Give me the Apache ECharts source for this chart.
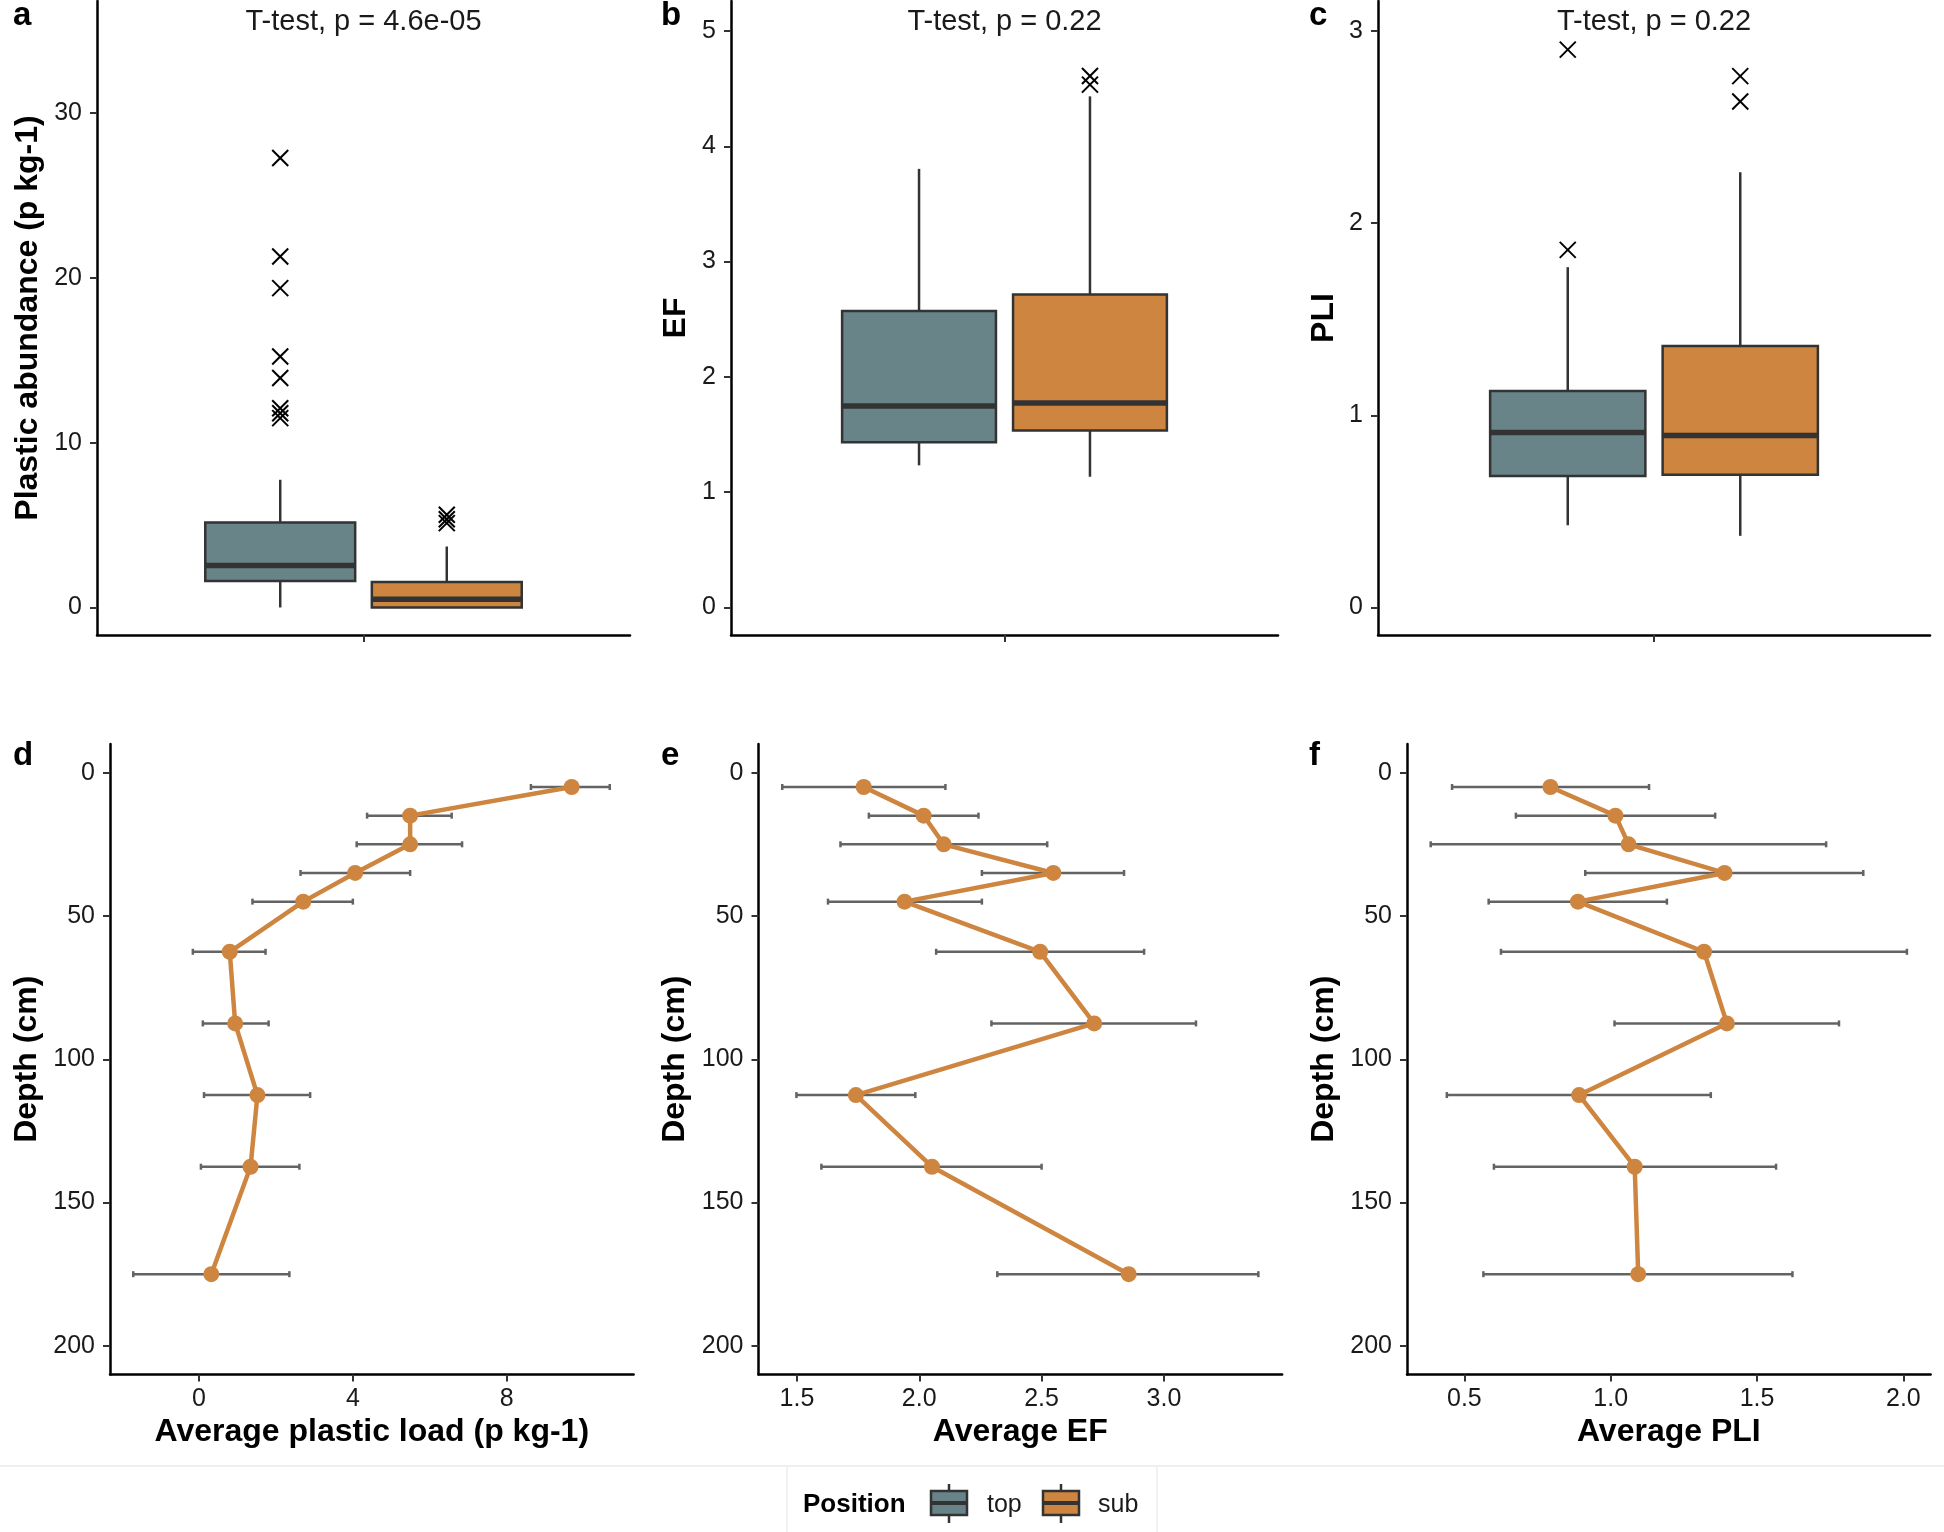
<!DOCTYPE html>
<html>
<head>
<meta charset="utf-8">
<script src="https://cdn.jsdelivr.net/npm/echarts@6/dist/echarts.min.js"></script>
<style>
html,body{margin:0;padding:0;background:#ffffff;}
#chart{width:1944px;height:1532px;}
</style>
</head>
<body>
<div id="chart"></div>
<script>
// ================= DATA =================
const positions = ['top', 'sub'];
const pValueLabels = ['T-test, p = 4.6e-05', 'T-test, p = 0.22', 'T-test, p = 0.22'];
const panelLetters = ['a', 'b', 'c', 'd', 'e', 'f'];

// box statistics: [lower whisker, Q1, median, Q3, upper whisker]
const abundanceTop = [0, 1.6, 2.55, 5.15, 7.75];
const abundanceSub = [0, 0, 0.5, 1.55, 3.7];
const abundanceTopOutliers = [27.27, 21.3, 19.38, 15.23, 13.92, 12.09, 11.79, 11.49];
const abundanceSubOutliers = [5.63, 5.35, 5.12];

const efTop = [1.233, 1.434, 1.748, 2.571, 3.804];
const efSub = [1.134, 1.536, 1.774, 2.714, 4.433];
const efTopOutliers = [];
const efSubOutliers = [4.535, 4.609];

const pliTop = [0.428, 0.685, 0.911, 1.126, 1.771];
const pliSub = [0.373, 0.691, 0.895, 1.361, 2.265];
const pliTopOutliers = [1.861, 2.903];
const pliSubOutliers = [2.633, 2.765];

// depth profiles
const depths = [5, 15, 25, 35, 45, 62.5, 87.5, 112.5, 137.5, 175];
const loadMean = [9.69, 5.49, 5.49, 4.06, 2.71, 0.80, 0.94, 1.52, 1.34, 0.32];
const loadLow  = [8.63, 4.37, 4.10, 2.64, 1.39, -0.16, 0.10, 0.13, 0.05, -1.71];
const loadHigh = [10.68, 6.57, 6.84, 5.49, 4.00, 1.73, 1.81, 2.89, 2.61, 2.35];

const efMean = [1.773, 2.018, 2.100, 2.548, 1.940, 2.494, 2.715, 1.741, 2.052, 2.856];
const efLow  = [1.440, 1.794, 1.678, 2.256, 1.627, 2.069, 2.295, 1.498, 1.600, 2.319];
const efHigh = [2.107, 2.242, 2.523, 2.837, 2.256, 2.919, 3.131, 1.984, 2.500, 3.386];

const pliMean = [0.794, 1.016, 1.061, 1.389, 0.888, 1.319, 1.397, 0.892, 1.082, 1.094];
const pliLow  = [0.458, 0.676, 0.385, 0.913, 0.583, 0.625, 1.013, 0.440, 0.601, 0.565];
const pliHigh = [1.131, 1.357, 1.736, 1.863, 1.192, 2.012, 1.780, 1.342, 1.565, 1.621];

// tick labels
const abundanceTicks = [0, 10, 20, 30];
const efTicks = [0, 1, 2, 3, 4, 5];
const pliTicks = [0, 1, 2, 3];
const depthTicks = [0, 50, 100, 150, 200];
const loadTicks = [0, 4, 8];
const avgEfTicks = [1.5, 2.0, 2.5, 3.0];
const avgPliTicks = [0.5, 1.0, 1.5, 2.0];

// axis titles
const topYNames = ['Plastic abundance (p kg-1)', 'EF', 'PLI'];
const botXNames = ['Average plastic load (p kg-1)', 'Average EF', 'Average PLI'];
const depthName = 'Depth (cm)';
const legendTitle = 'Position';

// ================= STYLE / LAYOUT =================
const FONT = '"Liberation Sans", Arial, Helvetica, sans-serif';
const FILLS = ['#688489', '#CD853F'];
const OUTLINE = '#333333';
const LINE_COLOR = '#CD853F';
const ERR_COLOR = '#636363';
const TEXT_COLOR = '#1a1a1a';
const BOX_HALF = 0.16875;     // half box width in category units
const DODGE = 0.375;          // dodge spacing

const topGrids = [
  {left: 97, top: 1, width: 533, height: 634},
  {left: 731, top: 1, width: 547, height: 634},
  {left: 1378, top: 1, width: 552, height: 634}
];
const botGrids = [
  {left: 110, top: 744, width: 523.6, height: 630.5},
  {left: 758.5, top: 744, width: 523.6, height: 630.5},
  {left: 1407, top: 744, width: 523.6, height: 630.5}
];
const topYRanges = [[-1.67, 36.8], [-0.2385, 5.26], [-0.143, 3.156]];
const botXRanges = [[-2.314, 11.3], [1.343, 3.483], [0.304, 2.093]];
const topYNameGaps = [53, 39, 38];

// ================= BUILD =================
const chart = echarts.init(document.getElementById('chart'), null, {renderer: 'canvas'});

const axisLineStyle = {show: true, onZero: false, lineStyle: {color: '#000', width: 2.5}};
const tickStyle = (vals) => ({show: true, customValues: vals, length: 7, lineStyle: {color: '#333', width: 2}});
const labelStyle = (vals, margin, fmt) => ({
  show: true, customValues: vals, fontSize: 25, color: TEXT_COLOR, fontFamily: FONT, margin: margin,
  formatter: fmt || (v => String(v))
});
const nameStyle = {fontSize: 32, fontWeight: 'bold', color: '#000', fontFamily: FONT};

const grids = [];
const xAxes = [];
const yAxes = [];
const series = [];

const boxStats = [[abundanceTop, abundanceSub], [efTop, efSub], [pliTop, pliSub]];
const outlierSets = [
  [abundanceTopOutliers, abundanceSubOutliers],
  [efTopOutliers, efSubOutliers],
  [pliTopOutliers, pliSubOutliers]
];
const topTicks = [abundanceTicks, efTicks, pliTicks];

function renderBox(params, api) {
  const x = api.value(0);
  const lo = api.value(1), q1 = api.value(2), med = api.value(3), q3 = api.value(4), hi = api.value(5);
  const fill = FILLS[api.value(6)];
  const a = api.coord([x - BOX_HALF, q3]);
  const b = api.coord([x + BOX_HALF, q1]);
  const mL = api.coord([x - BOX_HALF, med]);
  const mR = api.coord([x + BOX_HALF, med]);
  const wLo = api.coord([x, lo]), wQ1 = api.coord([x, q1]);
  const wQ3 = api.coord([x, q3]), wHi = api.coord([x, hi]);
  const ls = {stroke: OUTLINE, lineWidth: 2.5};
  return {
    type: 'group',
    children: [
      {type: 'line', shape: {x1: wQ3[0], y1: wQ3[1], x2: wHi[0], y2: wHi[1]}, style: ls},
      {type: 'line', shape: {x1: wLo[0], y1: wLo[1], x2: wQ1[0], y2: wQ1[1]}, style: ls},
      {type: 'rect', shape: {x: a[0], y: a[1], width: b[0] - a[0], height: b[1] - a[1]},
        style: {fill: fill, stroke: OUTLINE, lineWidth: 2.5}},
      {type: 'line', shape: {x1: mL[0], y1: mL[1], x2: mR[0], y2: mR[1]}, style: {stroke: OUTLINE, lineWidth: 5.5}}
    ]
  };
}

function renderCross(params, api) {
  const p = api.coord([api.value(0), api.value(1)]);
  const s = 8;
  const st = {stroke: '#000', lineWidth: 2};
  return {
    type: 'group',
    children: [
      {type: 'line', shape: {x1: p[0] - s, y1: p[1] - s, x2: p[0] + s, y2: p[1] + s}, style: st},
      {type: 'line', shape: {x1: p[0] - s, y1: p[1] + s, x2: p[0] + s, y2: p[1] - s}, style: st}
    ]
  };
}

function renderErr(params, api) {
  const pl = api.coord([api.value(0), api.value(2)]);
  const ph = api.coord([api.value(1), api.value(2)]);
  const c = 3;
  const st = {stroke: ERR_COLOR, lineWidth: 2.5};
  return {
    type: 'group',
    children: [
      {type: 'line', shape: {x1: pl[0], y1: pl[1], x2: ph[0], y2: ph[1]}, style: st},
      {type: 'line', shape: {x1: pl[0], y1: pl[1] - c, x2: pl[0], y2: pl[1] + c}, style: st},
      {type: 'line', shape: {x1: ph[0], y1: ph[1] - c, x2: ph[0], y2: ph[1] + c}, style: st}
    ]
  };
}

// ---- top row: boxplots ----
for (let i = 0; i < 3; i++) {
  grids.push(Object.assign({containLabel: false}, topGrids[i]));
  xAxes.push({
    type: 'value', gridIndex: i, min: 0.4, max: 1.6,
    axisLine: axisLineStyle, axisTick: tickStyle([1]), axisLabel: {show: false},
    splitLine: {show: false}
  });
  yAxes.push({
    type: 'value', gridIndex: i, min: topYRanges[i][0], max: topYRanges[i][1],
    axisLine: axisLineStyle, axisTick: tickStyle(topTicks[i]),
    axisLabel: labelStyle(topTicks[i], 15), splitLine: {show: false},
    name: topYNames[i], nameLocation: 'middle', nameGap: topYNameGaps[i], nameRotate: 90,
    nameTextStyle: nameStyle
  });
  const boxData = positions.map((p, g) => {
    const xPos = 1 + (g - 0.5) * DODGE;
    return [xPos].concat(boxStats[i][g]).concat([g]);
  });
  series.push({
    type: 'custom', xAxisIndex: i, yAxisIndex: i, renderItem: renderBox,
    data: boxData, z: 2, silent: true
  });
  const outData = [];
  positions.forEach((p, g) => {
    const xPos = 1 + (g - 0.5) * DODGE;
    outlierSets[i][g].forEach(v => outData.push([xPos, v]));
  });
  series.push({
    type: 'custom', xAxisIndex: i, yAxisIndex: i, renderItem: renderCross,
    data: outData, z: 3, silent: true
  });
}

// ---- bottom row: depth profiles ----
const profMeans = [loadMean, efMean, pliMean];
const profLows = [loadLow, efLow, pliLow];
const profHighs = [loadHigh, efHigh, pliHigh];
const botTicks = [loadTicks, avgEfTicks, avgPliTicks];
const botFmt = [v => String(v), v => v.toFixed(1), v => v.toFixed(1)];

for (let j = 0; j < 3; j++) {
  const k = j + 3;
  grids.push(Object.assign({containLabel: false}, botGrids[j]));
  xAxes.push({
    type: 'value', gridIndex: k, min: botXRanges[j][0], max: botXRanges[j][1],
    axisLine: axisLineStyle, axisTick: tickStyle(botTicks[j]),
    axisLabel: labelStyle(botTicks[j], 12, botFmt[j]), splitLine: {show: false},
    name: botXNames[j], nameLocation: 'middle', nameGap: 42, nameTextStyle: nameStyle
  });
  yAxes.push({
    type: 'value', gridIndex: k, min: -10, max: 210, inverse: true,
    axisLine: axisLineStyle, axisTick: tickStyle(depthTicks),
    axisLabel: labelStyle(depthTicks, 15), splitLine: {show: false},
    name: depthName, nameLocation: 'middle', nameGap: 67, nameRotate: 90,
    nameTextStyle: nameStyle
  });
  series.push({
    type: 'custom', xAxisIndex: k, yAxisIndex: k, renderItem: renderErr,
    data: depths.map((d, i) => [profLows[j][i], profHighs[j][i], d]), z: 2, silent: true
  });
  series.push({
    type: 'line', xAxisIndex: k, yAxisIndex: k,
    data: depths.map((d, i) => [profMeans[j][i], d]),
    symbol: 'circle', symbolSize: 16, showSymbol: true,
    itemStyle: {color: LINE_COLOR, borderWidth: 0},
    lineStyle: {color: LINE_COLOR, width: 4.5},
    z: 3, silent: true, animation: false
  });
}

// ---- graphics: letters, p labels, legend ----
const graphics = [];
const letterPos = [[13, 16], [661, 16], [1309, 16], [13, 756], [661, 756], [1309, 756]];
panelLetters.forEach((t, i) => {
  graphics.push({
    type: 'text', x: letterPos[i][0], y: letterPos[i][1], silent: true,
    style: {text: t, font: 'bold 33px ' + FONT, fill: '#000',
      align: 'left', verticalAlign: 'middle', textAlign: 'left', textVerticalAlign: 'middle'}
  });
});
pValueLabels.forEach((t, i) => {
  graphics.push({
    type: 'text', x: topGrids[i].left + topGrids[i].width / 2, y: 21.5, silent: true,
    style: {text: t, font: '29px ' + FONT, fill: TEXT_COLOR,
      align: 'center', verticalAlign: 'middle', textAlign: 'center', textVerticalAlign: 'middle'}
  });
});
// faint legend box separators
graphics.push({type: 'line', silent: true, shape: {x1: 0, y1: 1466, x2: 1944, y2: 1466}, style: {stroke: '#efefef', lineWidth: 2}});
graphics.push({type: 'line', silent: true, shape: {x1: 787, y1: 1466, x2: 787, y2: 1532}, style: {stroke: '#f2f2f2', lineWidth: 2}});
graphics.push({type: 'line', silent: true, shape: {x1: 1157, y1: 1466, x2: 1157, y2: 1532}, style: {stroke: '#f2f2f2', lineWidth: 2}});

graphics.push({
  type: 'text', x: 803, y: 1505, silent: true,
  style: {text: legendTitle, font: 'bold 26px ' + FONT, fill: '#000',
    align: 'left', verticalAlign: 'middle', textAlign: 'left', textVerticalAlign: 'middle'}
});
const keyLeft = [931, 1043];
const keyTextLeft = [987, 1098];
positions.forEach((p, g) => {
  const x0 = keyLeft[g], w = 36, cx = x0 + w / 2;
  const ls = {stroke: OUTLINE, lineWidth: 2.5};
  graphics.push({type: 'line', silent: true, shape: {x1: cx, y1: 1484, x2: cx, y2: 1491}, style: ls});
  graphics.push({type: 'line', silent: true, shape: {x1: cx, y1: 1515, x2: cx, y2: 1523}, style: ls});
  graphics.push({type: 'rect', silent: true, shape: {x: x0, y: 1491, width: w, height: 24},
    style: {fill: FILLS[g], stroke: OUTLINE, lineWidth: 2.5}});
  graphics.push({type: 'line', silent: true, shape: {x1: x0, y1: 1503, x2: x0 + w, y2: 1503},
    style: {stroke: OUTLINE, lineWidth: 4}});
  graphics.push({
    type: 'text', x: keyTextLeft[g], y: 1505, silent: true,
    style: {text: p, font: '25px ' + FONT, fill: TEXT_COLOR,
      align: 'left', verticalAlign: 'middle', textAlign: 'left', textVerticalAlign: 'middle'}
  });
});

chart.setOption({
  backgroundColor: '#ffffff',
  animation: false,
  grid: grids,
  xAxis: xAxes,
  yAxis: yAxes,
  series: series,
  graphic: {elements: graphics}
});
</script>
</body>
</html>
